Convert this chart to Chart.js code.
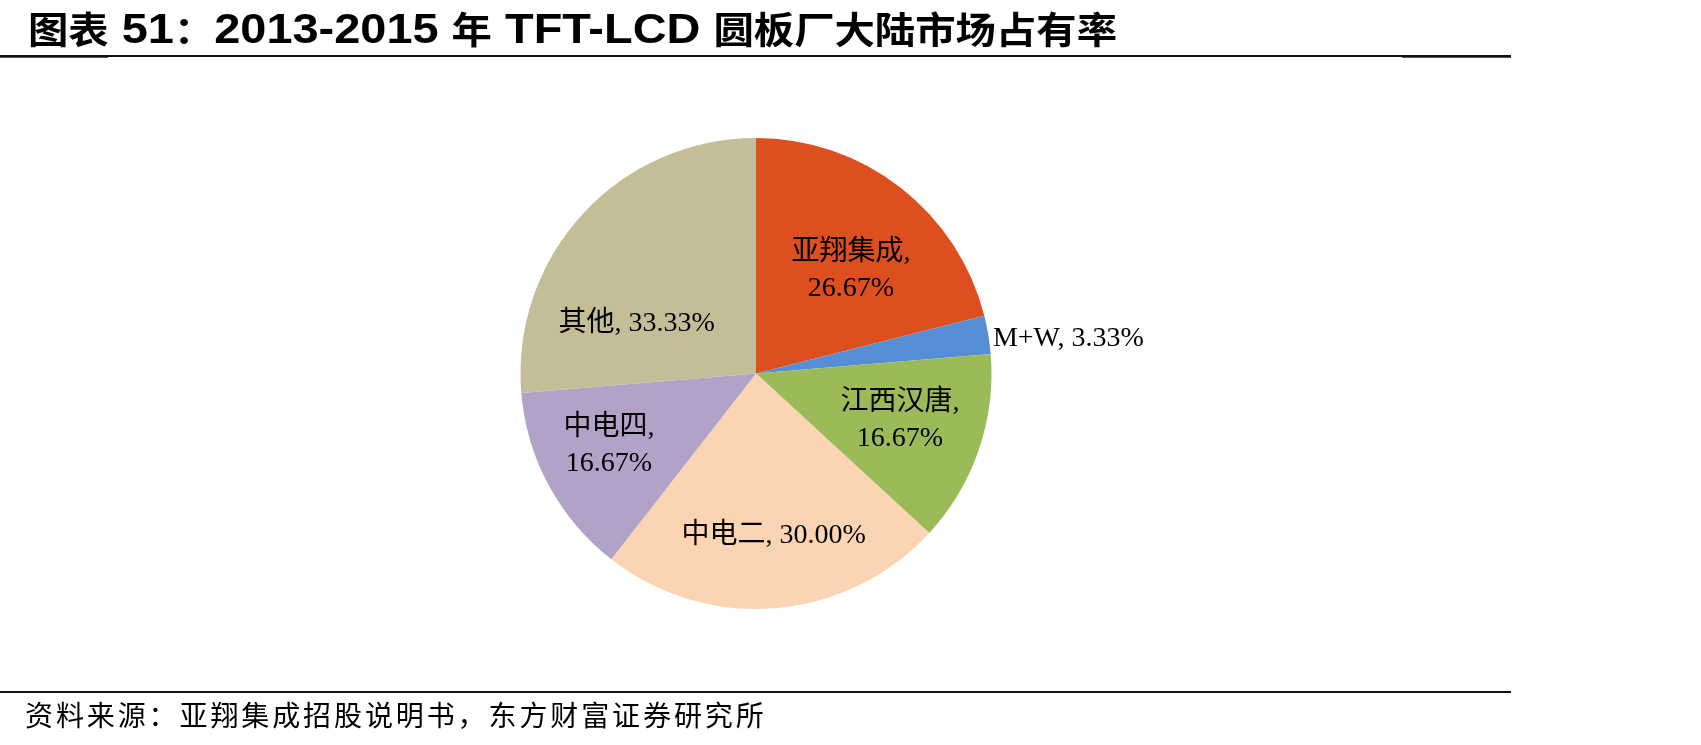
<!DOCTYPE html>
<html>
<head>
<meta charset="utf-8">
<script src="https://cdn.jsdelivr.net/npm/chart.js@4.4.0/dist/chart.umd.min.js"></script>
<style>
    html, body { margin: 0; padding: 0; background: #fff; }
    #wrap { position: relative; width: 1701px; height: 745px; }
</style>
</head>
<body>
<div id="wrap"><canvas id="pie-chart"></canvas></div>
<script>
// Market share data
const categories = ['亚翔集成', 'M+W', '江西汉唐', '中电二', '中电四', '其他'];
const shares = [26.67, 3.33, 16.67, 30.00, 16.67, 33.33];

const titleText = '图表 51：2013-2015 年 TFT-LCD 圆板厂大陆市场占有率';
const sourceText = '资料来源：亚翔集成招股说明书，东方财富证券研究所';

// Styling
const sliceColors = ['#DD4F1E', '#558ED5', '#9BBB59', '#FBD4B4', '#B2A2C7', '#C4BD97'];
// label placement: [fraction of radius, angle nudge (deg), two lines?]
const labelPlacement = [
    [0.609, 3.6, true],
    [1.02, 0, false],
    [0.637, -2.6, true],
    [0.673, -1.7, false],
    [0.687, 3.7, true],
    [0.557, -18.1, false],
];

const CJK = '"Noto Sans CJK SC"';
const isCJK = (ch) => /[\u3000-\u9fff\uff00-\uffef]/.test(ch);

// Title, rules and source line drawn straight on the canvas
const pagePlugin = {
    id: 'page',
    beforeDraw(chart) {
        const ctx = chart.ctx;
        ctx.save();
        ctx.fillStyle = '#fff';
        ctx.fillRect(0, 0, chart.width, chart.height);

        // title: split into CJK / latin runs, then squeeze to width
        const runs = [];
        for (const ch of titleText) {
            const cjk = isCJK(ch);
            if (runs.length && runs[runs.length - 1].cjk === cjk) runs[runs.length - 1].text += ch;
            else runs.push({ cjk, text: ch });
        }
        let total = 0;
        runs.forEach((r) => {
            ctx.font = r.cjk ? 'bold 37px ' + CJK : 'bold 43px "Liberation Sans"';
            r.w = ctx.measureText(r.text).width;
            total += r.w;
        });
        const sx = (1117 - 28) / total;
        ctx.translate(28, 44);
        ctx.scale(sx, 1);
        ctx.fillStyle = '#000';
        ctx.textBaseline = 'alphabetic';
        let x = 0;
        runs.forEach((r) => {
            ctx.font = r.cjk ? 'bold 37px ' + CJK : 'bold 43px "Liberation Sans"';
            ctx.fillText(r.text, x, r.cjk ? 0 : -1);
            x += r.w;
        });
        ctx.restore();

        // rules
        ctx.save();
        ctx.fillStyle = '#111';
        ctx.fillRect(0, 55, 1511, 2);
        ctx.fillStyle = '#555';
        ctx.fillRect(0, 57, 108, 1);
        ctx.fillRect(1402, 57, 109, 1);
        ctx.fillStyle = '#111';
        ctx.fillRect(0, 691, 1511, 2);

        // source
        ctx.fillStyle = '#000';
        ctx.font = '28px ' + CJK;
        ctx.textBaseline = 'middle';
        [...sourceText].forEach((ch, i) => {
            ctx.fillText(ch, 25 + i * 30.9, 715);
        });
        ctx.restore();
    },
};

// Data labels: "name, value%"
const labelPlugin = {
    id: 'sliceLabels',
    afterDatasetsDraw(chart) {
        const ctx = chart.ctx;
        const meta = chart.getDatasetMeta(0);
        ctx.save();
        ctx.fillStyle = '#000';
        ctx.font = '28px "Liberation Serif", ' + CJK;
        ctx.textBaseline = 'middle';
        meta.data.forEach((arc, i) => {
            const [frac, nudge, twoLines] = labelPlacement[i];
            const mid = (arc.startAngle + arc.endAngle) / 2 + nudge * Math.PI / 180;
            const px = arc.x + Math.cos(mid) * arc.outerRadius * frac;
            const py = arc.y + Math.sin(mid) * arc.outerRadius * frac + 5;
            const value = shares[i].toFixed(2) + '%';
            const lines = twoLines ? [categories[i] + ',', value] : [categories[i] + ', ' + value];
            ctx.textAlign = frac > 1 ? 'left' : 'center';
            const lh = 36;
            const y0 = py - (lines.length - 1) * lh / 2;
            lines.forEach((line, j) => ctx.fillText(line, px, y0 + j * lh));
        });
        ctx.restore();
    },
};

new Chart(document.getElementById('pie-chart'), {
    type: 'pie',
    data: {
        labels: categories,
        datasets: [{
            data: shares,
            backgroundColor: sliceColors,
            borderWidth: 0,
        }],
    },
    options: {
        responsive: true,
        maintainAspectRatio: false,
        animation: false,
        events: [],
        layout: {
            padding: { left: 0, right: 189, top: 138, bottom: 136 },
        },
        plugins: {
            legend: { display: false },
            tooltip: { enabled: false },
        },
    },
    plugins: [pagePlugin, labelPlugin],
});
</script>
</body>
</html>
